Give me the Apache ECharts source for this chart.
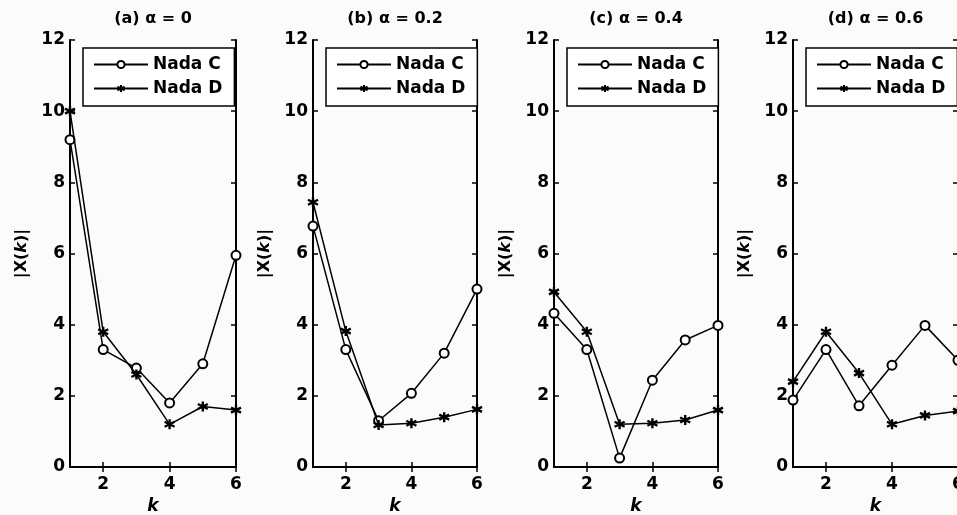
<!DOCTYPE html>
<html><head><meta charset="utf-8">
<script src="https://cdn.jsdelivr.net/npm/echarts@6/dist/echarts.min.js"></script>
<style>html,body{margin:0;padding:0;background:#fbfbfb}#c{width:957px;height:515px}</style>
</head><body><div id="c"></div><script>
// ---- data ----
const K = [1, 2, 3, 4, 5, 6];
const panelTitles = ['(a) α = 0', '(b) α = 0.2', '(c) α = 0.4', '(d) α = 0.6'];
const seriesNames = ['Nada C', 'Nada D'];
const nadaC_a = [9.2, 3.3, 2.78, 1.8, 2.9, 5.95];
const nadaD_a = [10.0, 3.8, 2.6, 1.2, 1.7, 1.6];
const nadaC_b = [6.77, 3.3, 1.3, 2.07, 3.2, 5.0];
const nadaD_b = [7.44, 3.82, 1.18, 1.23, 1.4, 1.62];
const nadaC_c = [4.32, 3.3, 0.25, 2.44, 3.57, 3.98];
const nadaD_c = [4.92, 3.8, 1.2, 1.23, 1.32, 1.6];
const nadaC_d = [1.88, 3.3, 1.72, 2.86, 3.98, 3.0];
const nadaD_d = [2.4, 3.8, 2.64, 1.2, 1.45, 1.57];
const xTicks = [2, 4, 6];
const yMin = 0, yMax = 12, yStep = 2;

const panelC = [nadaC_a, nadaC_b, nadaC_c, nadaC_d];
const panelD = [nadaD_a, nadaD_b, nadaD_c, nadaD_d];

// ---- layout ----
const gridLefts = [70, 313, 554, 793];
const gridWidths = [166, 164, 164, 165];
const gridTop = 40, gridHeight = 427;
const FONT = 'DejaVu Sans';
const asterisk = 'path://M0,-5L0,5M-4.3,-2.5L4.3,2.5M-4.3,2.5L4.3,-2.5';

const grids = [], xAxes = [], yAxes = [], series = [], legends = [], titles = [];
for (let i = 0; i < 4; i++) {
  grids.push({left: gridLefts[i], top: gridTop, width: gridWidths[i], height: gridHeight,
    containLabel: false, outerBoundsMode: 'none'});
  titles.push({text: panelTitles[i], left: gridLefts[i] + gridWidths[i] / 2, top: 11, padding: 0,
    textAlign: 'center',
    textStyle: {fontFamily: FONT, fontSize: 16, fontWeight: 'bold', color: '#000'}});
  const tickLine = {color: '#000', width: 1.5};
  xAxes.push({gridIndex: i, type: 'value', min: K[0], max: K[K.length - 1], position: 'bottom',
    axisLine: {lineStyle: {color: '#000', width: 2}},
    axisTick: {inside: true, length: 5, customValues: xTicks, lineStyle: tickLine},
    axisLabel: {customValues: xTicks, color: '#000', fontSize: 17, fontWeight: 'bold', fontFamily: FONT, margin: 9},
    splitLine: {show: false},
    name: 'k', nameLocation: 'middle', nameGap: 30,
    nameTextStyle: {fontStyle: 'italic', fontWeight: 'bold', fontSize: 17, fontFamily: FONT, color: '#000'}});
  xAxes.push({gridIndex: i, type: 'value', min: K[0], max: K[K.length - 1], position: 'top',
    axisLine: {lineStyle: {color: '#000', width: 2}},
    axisTick: {inside: true, length: 5, customValues: xTicks, lineStyle: tickLine},
    axisLabel: {show: false}, splitLine: {show: false}});
  yAxes.push({gridIndex: i, type: 'value', min: yMin, max: yMax, interval: yStep, position: 'left',
    axisLine: {show: true, lineStyle: {color: '#000', width: 2}},
    axisTick: {show: true, inside: true, length: 5, lineStyle: tickLine},
    axisLabel: {color: '#000', fontSize: 17, fontWeight: 'bold', fontFamily: FONT, margin: 5},
    splitLine: {show: false},
    name: '|X({i|k})|', nameLocation: 'middle', nameGap: 40, nameRotate: 90,
    nameTextStyle: {fontWeight: 'bold', fontSize: 16, fontFamily: FONT, color: '#000',
      rich: {i: {fontStyle: 'italic', fontWeight: 'bold', fontSize: 16, fontFamily: FONT, color: '#000'}}}});
  yAxes.push({gridIndex: i, type: 'value', min: yMin, max: yMax, interval: yStep, position: 'right',
    axisLine: {show: true, lineStyle: {color: '#000', width: 2}},
    axisTick: {show: true, inside: true, length: 5, lineStyle: tickLine},
    axisLabel: {show: false}, splitLine: {show: false}});
  series.push({name: seriesNames[0], type: 'line', xAxisIndex: 2 * i, yAxisIndex: 2 * i,
    data: K.map((k, j) => [k, panelC[i][j]]),
    symbol: 'emptyCircle', symbolSize: 9, showAllSymbol: true,
    lineStyle: {color: '#000', width: 1.5},
    itemStyle: {color: '#000', borderColor: '#000', borderWidth: 1.3}, z: 3});
  series.push({name: seriesNames[1], type: 'line', xAxisIndex: 2 * i, yAxisIndex: 2 * i,
    data: K.map((k, j) => [k, panelD[i][j]]),
    symbol: asterisk, symbolSize: 10, showAllSymbol: true,
    lineStyle: {color: '#000', width: 1.5},
    itemStyle: {color: '#000', borderColor: '#000', borderWidth: 2.4}, z: 4});
  legends.push({orient: 'vertical', left: gridLefts[i] + 13, top: 48,
    padding: [8, 12, 9, 10], itemGap: 7, itemWidth: 54, itemHeight: 9,
    borderColor: '#000', borderWidth: 1.5, backgroundColor: '#fff',
    textStyle: {fontSize: 17, fontWeight: 'bold', fontFamily: FONT, color: '#000'},
    data: seriesNames, selectedMode: false});
}

const chart = echarts.init(document.getElementById('c'));
chart.setOption({
  backgroundColor: '#fbfbfb', animation: false,
  title: titles, grid: grids, xAxis: xAxes, yAxis: yAxes, series: series, legend: legends
});
</script></body></html>
